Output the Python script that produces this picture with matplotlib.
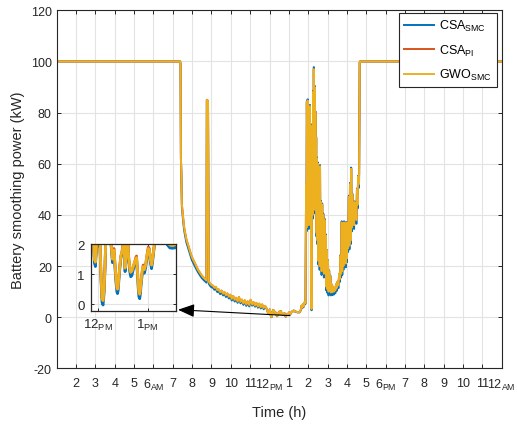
import numpy as np
import matplotlib
matplotlib.use('Agg')
import matplotlib.pyplot as plt

plt.rcParams['font.family'] = ['Liberation Sans', 'DejaVu Sans']
plt.rcParams['mathtext.default'] = 'regular'
plt.rcParams['axes.unicode_minus'] = False

# ---------------- data (hours, kW) ----------------
t_morning = [1.0, 7.38]
v_morning = [100.0, 100.0]

t_decay = [7.40, 7.42, 7.44, 7.47, 7.52, 7.58, 7.63, 7.70, 7.80, 7.90,
           7.98, 8.08, 8.18, 8.30, 8.40, 8.50, 8.60, 8.70, 8.74, 8.76,
           8.82, 8.86, 8.92, 9.00, 9.08, 9.15, 9.22, 9.30, 9.37, 9.45,
           9.52, 9.60, 9.67, 9.75, 9.82, 9.90, 9.97, 10.05, 10.12, 10.20,
           10.27, 10.35, 10.42, 10.50, 10.57, 10.65, 10.72, 10.80, 10.87, 10.95,
           11.02, 11.10, 11.17, 11.25, 11.32, 11.40, 11.47, 11.55, 11.62, 11.70,
           11.77]
v_decay = [99, 62, 57, 44, 40, 35.5, 33.3, 30.5, 28, 25.5,
           23.6, 22, 20.5, 18.6, 17.4, 16.3, 15.4, 14.7, 14.4, 85,
           84.5, 14, 13.2, 12.6, 12.3, 11.5, 11.9, 10.6, 10.9, 9.8,
           10.4, 9.2, 9.8, 8.6, 9.3, 8.0, 8.8, 7.2, 8.3, 6.8,
           7.6, 6.2, 7.9, 6.0, 6.9, 5.4, 6.6, 5.0, 6.2, 4.8,
           6.8, 5.0, 5.9, 4.6, 5.6, 4.2, 5.3, 3.9, 5.0, 3.6,
           4.4]
smc_dev_decay = [0, 0, 0, -1.0, -1.2, -1.2, -1.2, -1.2, -1.2, -1.2,
                 -1.2, -1.2, -1.2, -1.0, -1.0, -1.0, -0.9, -0.9, -0.9, 0,
                 0, -0.9, -0.9, -0.9, -0.8, -0.8, -0.8, -0.8, -0.8, -0.8,
                 -0.7, -0.7, -0.7, -0.7, -0.7, -0.7, -0.7, -0.7, -0.7, -0.7,
                 -0.6, -0.6, -0.6, -0.6, -0.6, -0.6, -0.6, -0.6, -0.6, -0.6,
                 -0.5, -0.5, -0.5, -0.5, -0.5, -0.5, -0.5, -0.5, -0.5, -0.5,
                 -0.4]

t_noon = [11.85, 11.88, 11.905, 11.925, 11.945, 11.965, 11.986, 12.01, 12.034, 12.06,
          12.08, 12.10, 12.12, 12.14, 12.155, 12.19, 12.216, 12.245, 12.27, 12.29,
          12.304, 12.32, 12.338, 12.36, 12.38, 12.392, 12.405, 12.419, 12.44, 12.46,
          12.475, 12.493, 12.51, 12.53, 12.545, 12.56, 12.575, 12.595, 12.615, 12.64,
          12.66, 12.683, 12.70, 12.72, 12.74, 12.76, 12.777, 12.79, 12.81, 12.824,
          12.84, 12.855, 12.865, 12.88, 12.90, 12.912, 12.935, 12.96, 12.98, 13.014,
          13.035, 13.055, 13.08, 13.10, 13.13, 13.16, 13.183, 13.22, 13.25, 13.30,
          13.35, 13.40, 13.45, 13.50, 13.555, 13.58]
v_noon = [3.4, 2.8, 2.2, 1.5, 1.4, 1.9, 2.5, 3.0, 2.2, 0.9,
          0.2, 0.12, 0.5, 1.3, 2.2, 2.8, 2.6, 2.3, 1.9, 1.5,
          1.6, 1.8, 1.4, 0.9, 0.55, 0.5, 0.6, 0.9, 1.3, 1.6,
          1.7, 1.8, 2.2, 1.7, 1.2, 1.5, 2.0, 2.3, 1.6, 1.2,
          1.06, 1.1, 1.2, 1.3, 1.4, 1.5, 1.55, 1.2, 0.7, 0.4,
          0.33, 0.5, 0.7, 0.95, 1.2, 1.25, 1.15, 1.3, 1.55, 1.85,
          1.8, 1.5, 1.3, 1.5, 1.9, 2.2, 2.1, 2.4, 2.6, 2.3,
          2.2, 2.05, 1.97, 1.96, 1.97, 2.3]
smc_dev_noon = [-0.1, -0.1, -0.1, -0.12, -0.15, -0.1, -0.05, -0.05, -0.1, -0.15,
                -0.15, -0.15, -0.15, -0.1, -0.05, 0, 0, -0.05, -0.1, -0.12,
                -0.1, -0.08, -0.12, -0.15, -0.15, -0.15, -0.15, -0.12, -0.1, -0.08,
                -0.05, -0.05, -0.05, -0.1, -0.12, -0.1, -0.05, 0, -0.1, -0.12,
                -0.15, -0.15, -0.12, -0.1, -0.08, -0.05, -0.05, -0.1, -0.15, -0.15,
                -0.15, -0.15, -0.12, -0.12, -0.1, -0.1, -0.12, -0.1, -0.08, -0.05,
                -0.05, -0.1, -0.12, -0.1, -0.05, 0, -0.05, 0, 0, -0.05,
                -0.05, -0.08, -0.1, -0.1, -0.1, -0.05]
pi_dev_noon = [0, 0, 0, 0, 0, 0, 0, 0.05, 0, 0,
               0, 0, 0, 0, 0, 0.05, 0, 0, 0, 0,
               0, 0.05, 0, 0, 0, 0, 0, 0, 0, 0,
               0, 0.05, 0.05, 0, 0, 0, 0, 0.05, 0, 0,
               0, 0, 0, 0, 0, 0.05, 0.05, 0, 0, 0,
               0, 0, 0, 0, 0, 0.05, 0, 0, 0, 0.05,
               0.05, 0, 0, 0, 0, 0.05, 0, 0, 0, 0,
               0, 0, 0, 0, 0, 0]

t_aft = [13.62, 13.66, 13.70, 13.74, 13.78, 13.82, 13.86, 13.89, 13.91, 13.93,
         13.95, 13.97, 13.99, 14.01, 14.03, 14.05, 14.07, 14.09, 14.11, 14.13,
         14.15, 14.17, 14.19, 14.21, 14.23, 14.25, 14.27, 14.29, 14.31, 14.33,
         14.35, 14.37, 14.39, 14.41, 14.43, 14.45, 14.48, 14.50, 14.53, 14.56,
         14.59, 14.61, 14.63, 14.66, 14.69, 14.72, 14.75, 14.78, 14.81, 14.84,
         14.87, 14.90, 14.93, 14.96, 14.99, 15.02, 15.05, 15.08, 15.11, 15.14,
         15.17, 15.20, 15.24, 15.28, 15.32, 15.36, 15.40, 15.44, 15.48, 15.52,
         15.56, 15.60, 15.64, 15.67, 15.70, 15.73, 15.76, 15.79, 15.82, 15.85,
         15.88, 15.91, 15.94, 15.97, 16.00, 16.03, 16.06, 16.10, 16.13, 16.16,
         16.19, 16.22, 16.25, 16.28, 16.31, 16.34, 16.37, 16.40, 16.43, 16.46,
         16.49, 16.52, 16.55, 16.58, 16.61, 16.63, 16.66, 16.68]
v_aft = [3.0, 4.6, 3.8, 5.2, 4.4, 6.0, 5.5, 52, 35, 84,
         55, 84.7, 40, 78, 36, 70, 45, 82.5, 50, 75,
         30, 3.2, 45, 70, 40, 88, 55, 97, 60, 90,
         42, 80, 48, 70, 33, 62, 30, 60, 22, 55,
         20, 59, 25, 45, 18, 44, 26, 40, 17, 38,
         20, 32, 12, 26, 11, 22, 10, 18, 11, 16,
         9.7, 13, 9.8, 12, 10, 11.5, 10.5, 13, 11.5, 14,
         12.5, 17, 15, 24, 17, 37, 18, 31, 20, 37,
         22, 33, 21, 37, 23, 33, 27, 47, 28, 52,
         30, 58, 35, 48, 38, 44, 36, 45, 40, 42,
         38, 50, 44, 55, 52, 56, 99.7, 100]
smc_dev_aft = [-0.3, -0.3, -0.3, -0.3, -0.3, -0.3, -0.3, 0, -1.5, 0.5,
               -1, 0.5, -1.5, 0.5, -1.5, 0.5, -1.5, 0.5, -1.5, 0.5,
               -1.5, -0.5, -1.5, 0.5, -1.5, 0.5, -1.5, 0.8, -1.5, 0.5,
               -1.5, 0.5, -1.5, 0.5, -1.5, 0.5, -1.5, 0.5, -1.5, 0.5,
               -1.5, 0.5, -1.5, 0.5, -1.5, 0.5, -1.5, 0.5, -1.5, 0.5,
               -1.5, 0.5, -1.5, 0.3, -1.5, 0.3, -1.5, 0.3, -1.2, 0.3,
               -1.2, -0.5, -1.2, -0.5, -1.2, -0.5, -1.2, -0.5, -1.2, -0.5,
               -1.2, -0.5, -1.2, 0.3, -1.5, 0.5, -1.5, 0.3, -1.5, 0.5,
               -1.5, 0.3, -1.5, 0.3, -1.5, 0.3, -1.5, 0.5, -1.5, 0.5,
               -1.5, 0.5, -1.5, 0.3, -1.5, 0.3, -1.5, 0.3, -1.5, -1,
               -1.5, 0.3, -1.5, 0.3, -1.5, -2, 0, 0]

t_evening = [24.0]
v_evening = [100.0]

series_names = ['CSA$_{SMC}$', 'CSA$_{PI}$', 'GWO$_{SMC}$']
series_colors = ['#0072BD', '#D95319', '#EDB120']

x_ticks = list(range(2, 25))
x_tick_labels = ['2', '3', '4', '5', '6$_{AM}$', '7', '8', '9', '10', '11',
                 '12$_{PM}$', '1', '2', '3', '4', '5', '6$_{PM}$', '7', '8', '9',
                 '10', '11', '12$_{AM}$']
y_ticks = list(range(-20, 121, 20))
inset_x_ticks = [12, 13]
inset_x_labels = ['12$_{PM}$', '1$_{PM}$']
inset_y_ticks = [0, 1, 2]

# ---------------- assemble series ----------------
t_all = np.concatenate([t_morning, t_decay, t_noon, t_aft, t_evening])
gwo = np.concatenate([v_morning, v_decay, v_noon, v_aft, v_evening])
zeros_m = np.zeros(len(t_morning))
zeros_e = np.zeros(len(t_evening))
smc = gwo + np.concatenate([zeros_m, smc_dev_decay, smc_dev_noon, smc_dev_aft, zeros_e])
pi = gwo + np.concatenate([zeros_m, np.zeros(len(t_decay)), pi_dev_noon,
                           np.zeros(len(t_aft)), zeros_e])
values = [smc, pi, gwo]

grid_c = '#e3e3e3'
spine_c = '#262626'

fig = plt.figure(figsize=(5.17, 4.27), dpi=100)
ax = fig.add_axes([0.1097, 0.1351, 0.8607, 0.8384])
for v, name, c in zip(values, series_names, series_colors):
    ax.plot(t_all, v, color=c, lw=1.4, label=name)

ax.set_xlim(1, 24)
ax.set_ylim(-20, 120)
ax.set_xticks(x_ticks)
ax.set_xticklabels(x_tick_labels)
ax.set_yticks(y_ticks)
ax.tick_params(direction='in', top=True, right=True, length=3, width=0.7,
               labelsize=9, colors=spine_c, pad=3.5)
ax.tick_params(axis='x', pad=6.5)
ax.grid(True, color=grid_c, lw=0.8)
ax.set_axisbelow(True)
for s in ax.spines.values():
    s.set_color(spine_c)
    s.set_linewidth(0.8)
ax.set_xlabel('Time (h)', fontsize=10.5, color=spine_c, labelpad=9)
ax.set_ylabel('Battery smoothing power (kW)', fontsize=10.5, color=spine_c, labelpad=4)

leg = ax.legend(loc='upper right', bbox_to_anchor=(0.9894, 0.9925), borderaxespad=0,
                fontsize=9, handlelength=2.4, labelspacing=0.75, fancybox=False,
                framealpha=1, edgecolor=spine_c, borderpad=0.4, handletextpad=0.4)
leg.get_frame().set_linewidth(0.8)

ax.annotate('', xy=(7.27, 2.9), xytext=(13.06, 0.6),
            arrowprops=dict(arrowstyle='-|>,head_length=1.0,head_width=0.4',
                            color='black', lw=0.8, mutation_scale=10,
                            shrinkA=0, shrinkB=0))

# ---------------- inset ----------------
axi = fig.add_axes([0.1754, 0.27, 0.1656, 0.1562])
for v, c in zip(values, series_colors):
    axi.plot(t_all, v, color=c, lw=2.0)
axi.set_xlim(11.85, 13.58)
axi.set_ylim(-0.22, 2.0)
axi.set_xticks(inset_x_ticks)
axi.set_xticklabels(inset_x_labels)
axi.set_yticks(inset_y_ticks)
axi.tick_params(direction='in', top=True, right=True, length=2.5, width=0.7,
                labelsize=9.5, colors=spine_c, pad=4.5)
axi.grid(True, color=grid_c, lw=0.8)
axi.set_axisbelow(True)
for s in axi.spines.values():
    s.set_color(spine_c)
    s.set_linewidth(0.9)

fig.savefig('out.png', dpi=100)
